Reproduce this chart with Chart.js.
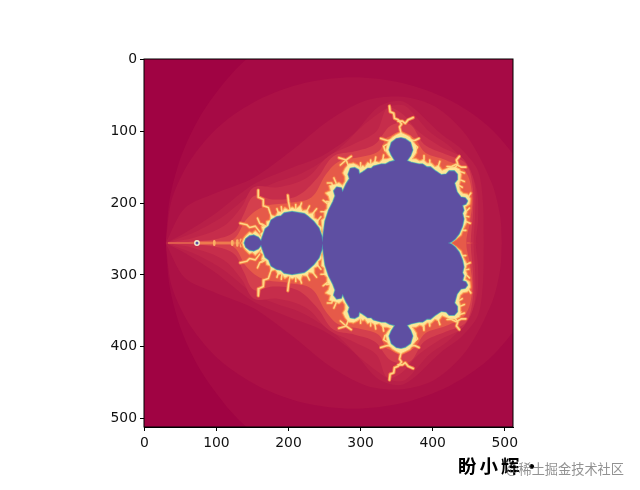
<!DOCTYPE html>
<html>
<head>
<meta charset="utf-8">
<title>Mandelbrot</title>
<script src="https://cdn.jsdelivr.net/npm/chart.js@4/dist/chart.umd.min.js"></script>
<style>
  html, body { margin: 0; padding: 0; background: #fff; }
  #wrap { position: relative; width: 640px; height: 490px; overflow: hidden; }
  canvas { display: block; }
  .sign { position: absolute; left: 458px; top: 452px; font: 700 18.5px "Noto Sans CJK SC"; letter-spacing: 3px; color: #000; white-space: nowrap; }
  .mark { position: absolute; left: 506px; top: 459px; font: 13.2px "Noto Sans CJK SC"; color: rgba(110,110,110,.75); white-space: nowrap; }
</style>
</head>
<body>
<div id="wrap">
  <canvas id="chart" width="640" height="490"></canvas>
  <div class="sign">盼小辉·</div>
  <div class="mark">@稀土掘金技术社区</div>
</div>
<script>
// Tick labels of both axes
const xTicks = [0, 100, 200, 300, 400, 500];
const yTicks = [0, 100, 200, 300, 400, 500];

// Row where the picture mirrors itself
const mirrorRow = 255.5;

// Upper halves of the colour bands, outermost first
const bandColors = ['#a00343', '#a60a45', '#ac1146', '#b21847', '#b81f48', '#be2549', '#c62d4b', '#d43f4d', '#e65a49'];
const band0 = [[-2, 255.5], [-2, -2], [514, -2], [514, 255.5]];
const band1 = [[29.5, 255.5], [35, 195], [50.5, 136.5], [76, 81.5], [111, 32], [142.5, -1], [203, -46], [377, -93], [600, -93], [600, 255.5]];
const band2 = [[29.5, 255.5], [38, 195], [64, 140], [105, 92], [159, 56], [222, 33], [290, 25], [358, 33], [422, 56], [476, 92], [517, 140], [542, 195], [551, 255.5]];
const band3 = [[29.5, 255.5], [56, 207], [99, 186], [151, 165], [204, 127], [256, 85], [308, 57], [358, 52], [404, 66], [447, 106], [482, 172], [494, 220], [496, 255.5]];
const band4 = [[29.5, 255.5], [56, 241.5], [99, 214], [151, 174], [204, 151], [247, 134], [290, 104], [325, 66], [360, 59], [412, 104], [440, 125], [463, 155], [470, 202], [471, 255.5]];
const band5 = [[29.5, 255.5], [45, 250], [75, 238], [110, 218], [150, 186], [180, 172], [215, 160], [245, 143], [275, 120], [300, 95], [330, 72], [345, 64], [360, 64], [372, 74], [395, 100], [425, 122], [450, 150], [462, 185], [463, 225], [460, 255.5]];
const band6 = [[33, 255], [70, 248], [110, 232], [135, 205], [152, 178], [185, 178], [225, 165], [255, 135], [290, 118], [322, 100], [337, 68], [357, 75], [380, 100], [412, 122], [442, 138], [458, 172], [459, 215], [457, 255.5]];
const band7 = [[60, 254], [100, 250], [125, 240], [138, 215], [152, 190], [178, 195], [212, 190], [240, 165], [262, 135], [292, 128], [320, 118], [342, 92], [368, 90], [388, 118], [418, 132], [446, 145], [456, 180], [456, 215], [453, 255.5]];
const band8 = [[118, 254], [128, 246], [142, 222], [165, 205], [200, 200], [232, 192], [252, 160], [270, 142], [300, 136], [325, 128], [338, 108], [372, 108], [390, 130], [418, 140], [445, 155], [455, 190], [452, 225], [447, 255.5]];
const bandPaths = [band0, band1, band2, band3, band4, band5, band6, band7, band8];

// Upper half of the jagged pale rim around the body
const fringeColor = '#fee596';
const fringePath = [[136, 255.5], [138, 250], [141, 246], [146, 241], [150, 243], [154, 239], [158, 243], [161, 246], [164, 250], [161, 243], [165, 240], [163, 233], [169, 232], [170, 226], [175, 224], [176, 217], [182, 219], [186, 212], [191, 213], [195, 207], [200, 210], [205, 206], [210, 209], [216, 204], [219, 211], [226, 210], [228, 215], [234, 214], [235, 221], [241, 224], [241, 230], [246, 234], [245, 240], [247.5, 245], [247.5, 253], [248, 240],
  [247, 235], [246, 224], [250, 221], [250, 212], [254, 208], [254, 200], [258, 198], [256, 190], [252, 186], [259, 183], [257, 176], [265, 174], [270, 172], [275, 176], [279, 170], [279, 163], [276, 158], [279, 152], [283, 147], [290, 145], [296, 148], [300, 151], [303, 148], [306, 150], [310, 144], [314, 146], [320, 142], [326, 144], [331, 139], [337, 139], [342, 137], [338, 132], [335, 127], [337, 120], [339, 114], [345, 108], [350, 105], [356, 102], [362, 105], [368, 108], [373, 115], [377, 121], [377, 130], [373, 136], [371, 139], [377, 139], [382, 142], [387, 140], [392, 145], [398, 145], [403, 150], [408, 148], [413, 155], [418, 153], [424, 150], [431, 150], [437, 153], [439, 160], [438, 168], [436, 175], [438, 183], [442, 187], [448, 188], [452, 194], [451, 201], [445, 205], [447, 213], [445, 218], [447, 226], [444, 232], [441, 238], [439, 244], [433, 249], [428, 252], [421, 255.5]];

// Upper half of the solid blue body
const bodyColor = '#5e4fa2';
const bodyPath = [[139, 255.5], [141, 250], [146, 246], [152, 245], [158, 248], [162, 253], [164, 247], [168, 236], [173, 232], [176, 224], [184, 219], [190, 218], [194, 214], [205, 212], [216, 214], [222, 215], [226, 218], [235, 226], [242, 235], [246, 246], [247, 255],
  [249, 240], [251, 225], [256, 210], [259, 204], [262, 198], [265, 190], [263, 183], [267, 178], [273, 179], [275, 185], [280, 174], [285, 166], [283, 160], [286, 152], [292, 151], [297, 154], [298, 160], [303, 157], [306, 155], [310, 152], [315, 152], [318, 149], [329, 146], [335, 146], [340, 143], [348, 141],
  [343, 133], [340, 126], [343, 116], [350, 110.5], [356, 109.5], [362, 111], [369, 116], [372, 126], [369, 134], [364, 141], [370, 143.5], [381, 146], [386, 146], [392, 150], [397, 150], [403, 155], [412, 161], [419, 160], [423, 155.5], [430, 155.5], [434, 160], [434, 167], [430, 172], [433.5, 184.7], [439, 192], [445, 193], [448, 197], [446, 201], [441, 203], [443, 210], [441, 214], [443, 222], [441, 232], [436.6, 242.4], [431, 249.7], [426, 253.7], [421, 255.5]];

// Bright filaments growing out of the rim
const flames = [
  [[356, 102], [354, 94], [357, 90], [352, 84], [347, 82], [346, 75], [341, 73], [340, 65]], [[352, 86], [358, 86], [362, 89], [366, 84], [373, 81]],
  [[344, 112], [337, 113], [328, 110]], [[337, 118], [332, 121], [334, 127]], [[368, 112], [375, 113], [381, 110]], [[374, 118], [379, 122], [376, 128]],
  [[283, 148], [280, 140], [270, 137]], [[280, 140], [287, 135]], [[280, 140], [272, 147]], [[284, 146], [289, 147]],
  [[314, 146], [314, 140]], [[395, 146], [396, 140]],
  [[430, 152], [435, 146], [433, 140], [437, 135]], [[434, 147], [440, 150], [446, 150]], [[433, 146], [426, 149], [420, 149]], [[438, 156], [444, 158]],
  [[449, 192], [453, 186]], [[446, 212], [451, 207]],
  [[262, 178], [260, 172], [254, 172]], [[253, 200], [248, 196]], [[266, 172], [263, 165]],
  [[176, 218], [172, 206], [166, 204], [165, 195], [159, 192], [158, 182]], [[202, 208], [200, 198], [199, 189]], [[216, 206], [218, 200]], [[186, 214], [184, 208]],
  [[160, 240], [154, 232], [146, 234], [142, 230], [133, 228]], [[166, 232], [160, 228], [157, 221]],
  [[169, 232], [163, 229]], [[191, 213], [190, 205]], [[210, 209], [210, 202]], [[226, 210], [229, 204]], [[234, 214], [239, 208]], [[241, 224], [245, 219]],
  [[387, 140], [388, 134]], [[408, 148], [410, 142]], [[320, 142], [321, 136]], [[331, 139], [332, 133]], [[300, 151], [300, 144]], [[258, 198], [252, 198]], [[250, 212], [245, 212]],
  [[445, 218], [450, 219]], [[447, 226], [452, 228]], [[441, 238], [446, 238]], [[439, 168], [444, 170]], [[436, 175], [441, 178]]
];

// The long spike on the left, with its small bright knots
const spikeFaint = [[34, 255.5], [73, 255.5]];
const spikeBright = [[73, 255.5], [139, 255.5]];
const knots = [[[97, 255.5], [97, 253]], [[122, 255.5], [122, 253]], [[129, 255.5], [129, 252]], [[134, 255.5], [134, 251]]];
const islet = [[73, 255.5]];

const toPoints = path => path.map(p => ({ x: p[0], y: p[1] }));
const mirrored = path => path.map(p => [p[0], 2 * mirrorRow - p[1]]);
// filling back to the mirror row clips at the first and last x, so close along that row
const closed = path => path.concat([[Math.max(...path.map(p => p[0])) + 1, mirrorRow]]);

const datasets = [];
function addFill(path, color, tension) {
  [path, mirrored(path)].forEach(half => datasets.push({
    data: toPoints(closed(half)), fill: { value: mirrorRow }, backgroundColor: color,
    borderWidth: 0, pointRadius: 0, tension: tension
  }));
}
function addStroke(path, color, width) {
  [path, mirrored(path)].forEach(half => datasets.push({
    data: toPoints(half), fill: false, borderColor: color, borderWidth: width,
    borderJoinStyle: 'round', borderCapStyle: 'round', pointRadius: 0, tension: 0
  }));
}

bandPaths.forEach((path, i) => addFill(path, bandColors[i], i < 6 ? 0.3 : 0.35));
addStroke(spikeFaint, '#df5a4e', 2);
addStroke(spikeBright, '#ee7a4e', 2.6);
knots.forEach(path => addStroke(path, '#fbb066', 2.4));
flames.forEach(path => addStroke(path, '#f37a45', 3.4));
addStroke(fringePath, '#f36d43', 4);
addStroke(fringePath, '#fdae61', 2);
flames.forEach(path => addStroke(path, '#fed584', 1.6));
addFill(fringePath, fringeColor, 0);
addStroke(bodyPath, '#8fd4a4', 2.2);
addStroke(bodyPath, '#4a93b4', 1.2);
addFill(bodyPath, bodyColor, 0);
datasets.push({ data: toPoints(islet), showLine: false, pointRadius: 2.2, pointBackgroundColor: bodyColor, pointBorderColor: '#f5eecb', pointBorderWidth: 1.4 });
datasets.forEach((d, i) => { d.order = -i; });

const frame = {
  id: 'frame',
  afterDatasetsDraw(chart) {
    const a = chart.chartArea, ctx = chart.ctx;
    ctx.save();
    ctx.strokeStyle = '#000';
    ctx.lineWidth = 1;
    ctx.strokeRect(a.left, a.top, a.right - a.left, a.bottom - a.top);
    ctx.restore();
  }
};

const axisFont = { family: 'DejaVu Sans', size: 13.9 };
new Chart(document.getElementById('chart'), {
  type: 'line',
  data: { datasets: datasets },
  plugins: [frame],
  options: {
    responsive: false,
    animation: false,
    events: [],
    layout: { padding: { left: 0, top: 59, right: 127, bottom: 0 } },
    plugins: { legend: { display: false }, tooltip: { enabled: false } },
    scales: {
      x: {
        type: 'linear', min: -0.5, max: 511.5,
        afterFit: s => { s.height = 63; },
        afterBuildTicks: s => { s.ticks = xTicks.map(v => ({ value: v })); },
        grid: { drawOnChartArea: false, tickLength: 4, tickColor: '#000' },
        border: { color: '#000' },
        ticks: { font: axisFont, color: '#111', maxRotation: 0, padding: 4 }
      },
      y: {
        type: 'linear', min: -0.5, max: 511.5, reverse: true,
        afterFit: s => { s.width = 144; },
        afterBuildTicks: s => { s.ticks = yTicks.map(v => ({ value: v })); },
        grid: { drawOnChartArea: false, tickLength: 4, tickColor: '#000' },
        border: { color: '#000' },
        ticks: { font: axisFont, color: '#111', padding: 3 }
      }
    }
  }
});
</script>
</body>
</html>
